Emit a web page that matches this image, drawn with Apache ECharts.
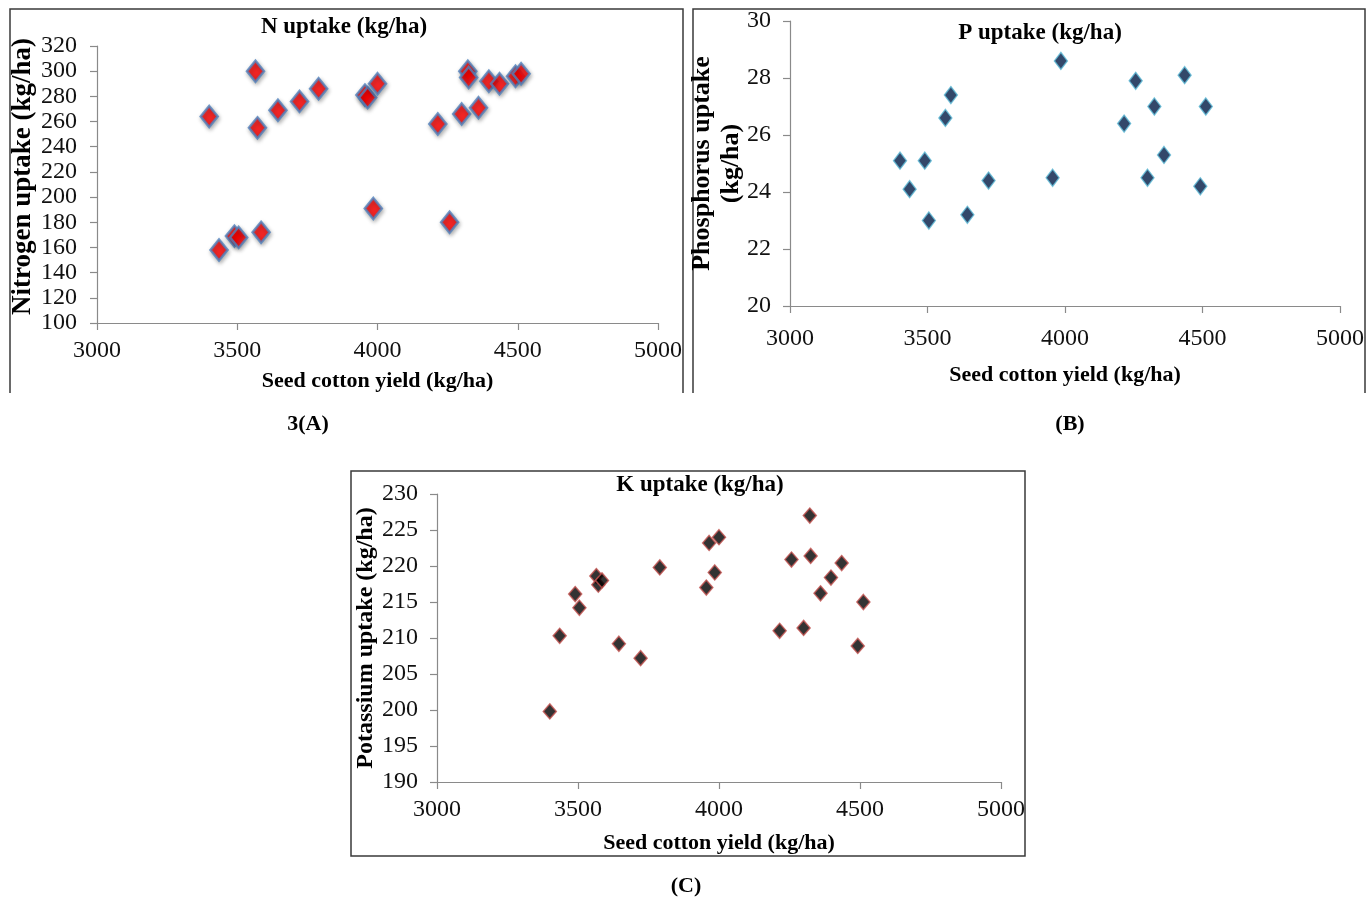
<!DOCTYPE html>
<html>
<head>
<meta charset="utf-8">
<title>Nutrient uptake vs seed cotton yield</title>
<script src="https://cdn.jsdelivr.net/npm/echarts@6/dist/echarts.min.js"></script>
<style>
  html, body { margin: 0; padding: 0; background: #ffffff; }
  #chart { width: 1367px; height: 897px; }
</style>
</head>
<body>
<div id="chart"></div>
<script>
// Seed cotton yield (kg/ha) for each plot, shared by the N and K panels
const yieldKgHa = [3400, 3435, 3490, 3505, 3565, 3572, 3585, 3645, 3722, 3790, 3955, 3965,
                   3985, 4000, 4215, 4257, 4300, 4322, 4325, 4360, 4397, 4435, 4492, 4512];
// Nitrogen uptake (kg/ha)
const nUptake = [264, 158, 169, 168, 300, 255, 172, 269, 276, 286, 281, 279,
                 191, 290, 258, 180, 266, 300, 295, 271, 292, 290, 296, 298];
// Yield values plotted in the P panel
const pYield = [3400, 3435, 3490, 3505, 3565, 3585, 3645, 3722, 3955, 3985,
                4215, 4257, 4300, 4325, 4360, 4435, 4492, 4512];
// Phosphorus uptake (kg/ha)
const pUptake = [25.1, 24.1, 25.1, 23.0, 26.6, 27.4, 23.2, 24.4, 24.5, 28.6,
                 26.4, 27.9, 24.5, 27.0, 25.3, 28.1, 24.2, 27.0];
// Potassium uptake (kg/ha)
const kUptake = [199.8, 210.3, 216.1, 214.2, 218.6, 217.4, 218.0, 209.2, 207.2, 219.8, 217.0, 223.2,
                 219.1, 224.0, 211.0, 220.9, 211.4, 227.0, 221.4, 216.2, 218.4, 220.4, 208.9, 215.0];

const xTitle = 'Seed cotton yield (kg/ha)';
const panelTitles = ['N uptake (kg/ha)', 'P uptake (kg/ha)', 'K uptake (kg/ha)'];
const yTitles = ['Nitrogen uptake (kg/ha)', 'Phosphorus uptake\n(kg/ha)', 'Potassium uptake (kg/ha)'];
const captions = ['3(A)', '(B)', '(C)'];

const pairs = (xs, ys) => xs.map((x, i) => [x, ys[i]]);

const SERIF = '"Liberation Serif", "Times New Roman", serif';
const axisGrey = '#8a8a8a';
const plain = v => String(v);

function xAxisFor(gridIndex, nameGap, labelMargin) {
  return {
    gridIndex, type: 'value', min: 3000, max: 5000, interval: 500,
    name: xTitle, nameLocation: 'middle', nameGap, nameMoveOverlap: false,
    nameTextStyle: { fontFamily: SERIF, fontWeight: 'bold', fontSize: 22, color: '#000' },
    axisLine: { show: true, onZero: false, lineStyle: { color: axisGrey, width: 1.2 } },
    axisTick: { show: true, length: 7, lineStyle: { color: axisGrey, width: 1.2 } },
    axisLabel: { fontFamily: SERIF, fontSize: 24, color: '#111', margin: labelMargin, formatter: plain },
    splitLine: { show: false }
  };
}

function yAxisFor(gridIndex, min, max, interval, name, nameGap, nameSize, labelMargin, namePad) {
  return {
    gridIndex, type: 'value', min, max, interval,
    name, nameLocation: 'middle', nameGap, nameRotate: 90, nameMoveOverlap: false,
    nameTextStyle: { fontFamily: SERIF, fontWeight: 'bold', fontSize: nameSize, color: '#000',
                     lineHeight: 29, padding: namePad },
    axisLine: { show: true, onZero: false, lineStyle: { color: axisGrey, width: 1.2 } },
    axisTick: { show: true, length: 7, lineStyle: { color: axisGrey, width: 1.2 } },
    axisLabel: { fontFamily: SERIF, fontSize: 24, color: '#111', margin: labelMargin, formatter: plain },
    splitLine: { show: false }
  };
}

function headText(text, x, y, size) {
  return {
    type: 'text', silent: true,
    style: { text, x, y, textAlign: 'center', textVerticalAlign: 'middle',
             font: 'bold ' + size + 'px ' + SERIF, fill: '#000' }
  };
}

const frameStyle = { stroke: '#3a3a3a', lineWidth: 1.5, fill: null };

const option = {
  backgroundColor: '#ffffff',
  animation: false,
  grid: [
    { left: 97, top: 46, width: 561, height: 277 },
    { left: 790, top: 21, width: 551, height: 285 },
    { left: 437, top: 494, width: 564, height: 288 }
  ],
  xAxis: [
    xAxisFor(0, 47, 16),
    xAxisFor(1, 58, 21),
    xAxisFor(2, 50, 16)
  ],
  yAxis: [
    yAxisFor(0, 100, 320, 20, yTitles[0], 59, 27, 20, [0, 0, 0, 16]),
    yAxisFor(1, 20, 30, 2, yTitles[1], 44, 26, 19, 0),
    yAxisFor(2, 190, 230, 5, yTitles[2], 57, 24, 19, 0)
  ],
  series: [
    {
      type: 'scatter', xAxisIndex: 0, yAxisIndex: 0,
      data: pairs(yieldKgHa, nUptake),
      symbol: 'diamond', symbolSize: [17, 21],
      itemStyle: { color: '#ff0000', borderColor: '#4f81bd', borderWidth: 2.5,
                   shadowColor: 'rgba(0,0,0,0.35)', shadowBlur: 4, shadowOffsetX: 1, shadowOffsetY: 2 }
    },
    {
      type: 'scatter', xAxisIndex: 1, yAxisIndex: 1,
      data: pairs(pYield, pUptake),
      symbol: 'diamond', symbolSize: [13, 17],
      itemStyle: { color: '#001a45', borderColor: '#5bb8d4', borderWidth: 1.4 }
    },
    {
      type: 'scatter', xAxisIndex: 2, yAxisIndex: 2,
      data: pairs(yieldKgHa, kUptake),
      symbol: 'diamond', symbolSize: [13, 15],
      itemStyle: { color: '#000000', borderColor: '#c0504d', borderWidth: 1.5 }
    }
  ],
  graphic: [
    { type: 'polyline', silent: true, shape: { points: [[10, 393], [10, 9], [683, 9], [683, 393]] }, style: frameStyle },
    { type: 'polyline', silent: true, shape: { points: [[693, 393], [693, 9], [1365, 9], [1365, 393]] }, style: frameStyle },
    { type: 'rect', silent: true, shape: { x: 351, y: 471, width: 674, height: 385 }, style: frameStyle },
    headText(panelTitles[0], 344, 27, 23),
    headText(panelTitles[1], 1040, 33, 23),
    headText(panelTitles[2], 700, 485, 23),
    headText(captions[0], 308, 424, 22),
    headText(captions[1], 1070, 424, 22),
    headText(captions[2], 686, 886, 22)
  ]
};

const chart = echarts.init(document.getElementById('chart'), null, { renderer: 'canvas' });
chart.setOption(option);
</script>
</body>
</html>
